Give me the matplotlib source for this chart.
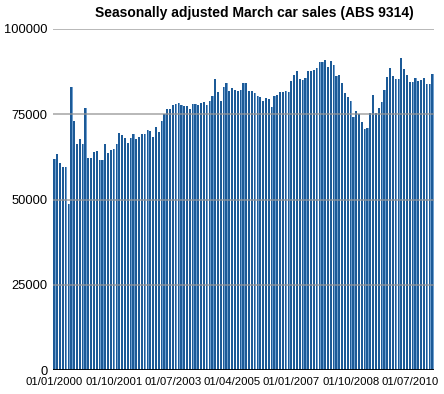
#!/usr/bin/env python

import matplotlib
matplotlib.use('Agg')
import matplotlib.pyplot as plt
import numpy as np

title = 'Seasonally adjusted March car sales (ABS 9314)'

# monthly sales, Jan 2000 onwards
sales = [
    61900, 63350, 60700, 59500, 59500, 48650, 83050, 73050, 66300, 67750,
    66300, 76900, 62200, 62200, 63950, 64250, 61600, 61600, 66300, 63650,
    64500, 64800, 66300, 69500, 68950, 68050, 66600, 68050, 69200, 67750,
    68350, 69200, 69200, 70400, 70100, 68350, 71300, 69800, 73050, 75100,
    76600, 76600, 77750, 78050, 78350, 77750, 77450, 77450, 76600, 78050,
    78050, 77750, 78350, 78650, 77750, 78950, 80400, 85400, 81600, 78950,
    83050, 84200, 81900, 82750, 82150, 81900, 82150, 84200, 84200, 81900,
    81900, 81300, 80400, 80100, 78950, 79800, 79500, 77150, 80400, 80700,
    81600, 81600, 81900, 81600, 84800, 86600, 87750, 85400, 85100, 85700,
    87750, 87750, 88050, 88650, 90400, 90400, 91000, 88950, 90700, 89500,
    86300, 86600, 84200, 81300, 80100, 78950, 74200, 76000, 75100, 72750,
    70700, 71000, 75400, 80700, 75400, 76900, 78650, 82150, 86000, 88650,
    86300, 85400, 85400, 91600, 88350, 86600, 84500, 84500, 85700, 84800,
    85100, 85700, 83950, 83950, 86850,
]
tick_labels = ['01/01/2000', '01/10/2001', '01/07/2003', '01/04/2005',
               '01/01/2007', '01/10/2008', '01/07/2010']
tick_step = 21
y_ticks = [0, 25000, 50000, 75000, 100000]

plt.rcParams['font.family'] = ['Liberation Sans', 'DejaVu Sans']

fig = plt.figure(figsize=(4.44, 3.94), dpi=100)
ax = fig.add_axes([0.1194, 0.0609, 0.8581, 0.8655])

x = np.arange(len(sales))
# dark body plus a lighter right edge, like the bevelled bars in the original
ax.bar(x - 0.08, sales, width=0.62, color='#1c5a97', zorder=2, linewidth=0)
ax.bar(x + 0.30, sales, width=0.14, color='#6f9fcf', zorder=2, linewidth=0)

for v in y_ticks[1:]:
    ax.axhline(v, color='#949494', lw=1.1, alpha=0.85, zorder=3)
ax.axhline(0, color='black', lw=1.3, zorder=4)

ax.set_xlim(-0.55, len(sales) - 0.45)
ax.set_ylim(0, 100000)
ax.set_yticks(y_ticks)
ax.set_yticklabels([str(v) for v in y_ticks], fontsize=9.3)
ax.set_xticks(x[::tick_step])
ax.set_xticklabels(tick_labels, fontsize=8.2)
ax.tick_params(length=0, colors='black')
ax.tick_params(axis='y', pad=4)
ax.tick_params(axis='x', pad=5)
for s in ax.spines.values():
    s.set_visible(False)

fig.text(0.573, 0.968, title, ha='center', va='center',
         fontsize=10, fontweight='bold')

fig.savefig('out.png', dpi=100)
